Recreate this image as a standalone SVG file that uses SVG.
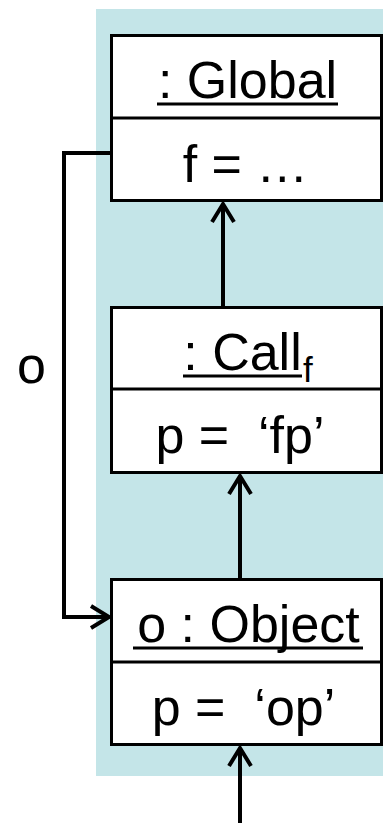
<svg xmlns="http://www.w3.org/2000/svg" width="383" height="823" viewBox="0 0 383 823">
<style>
.box{fill:#fff;stroke:#000;stroke-width:3}
.div{stroke:#000;stroke-width:3}
.t{font-family:"Liberation Sans",Arial,sans-serif;font-size:52px;fill:#000;text-anchor:middle}
.sub{font-family:"Liberation Sans",Arial,sans-serif;font-size:35px;fill:#000;text-anchor:start}
.ul{stroke:#000;stroke-width:3}
.c{fill:none;stroke:#000;stroke-width:4}
</style>
<defs>
<marker id="arr" markerUnits="userSpaceOnUse" markerWidth="40" markerHeight="40" refX="0" refY="0" orient="auto" overflow="visible">
<path d="M -18,-11 L 0,0 L -18,11" fill="none" stroke="#000" stroke-width="4"/>
</marker>
</defs>
<rect x="96" y="9" width="287" height="767" fill="#c4e5e8"/>
<g id="connectors">
<path class="c" d="M 111,153 L 64,153 L 64,617 L 109,617" marker-end="url(#arr)"/>
<line class="c" x1="223" y1="307" x2="223" y2="204" marker-end="url(#arr)"/>
<line class="c" x1="240" y1="579" x2="240" y2="476" marker-end="url(#arr)"/>
<line class="c" x1="240" y1="823" x2="240" y2="748" marker-end="url(#arr)"/>
<text class="t" x="31.5" y="383">o</text>
</g>
<g id="global">
<rect class="box" x="111.5" y="35.5" width="270" height="165"/>
<line class="div" x1="111.5" y1="118" x2="381.5" y2="118"/>
<text class="t" x="247.5" y="98">: Global</text>
<line class="ul" x1="157" y1="104" x2="338" y2="104"/>
<text class="t" x="245.5" y="182">f = …</text>
</g>
<g id="call">
<rect class="box" x="111.5" y="307.5" width="270" height="165"/>
<line class="div" x1="111.5" y1="389" x2="381.5" y2="389"/>
<text class="t" x="242.5" y="370">: Call</text>
<text class="sub" x="303" y="382">f</text>
<line class="ul" x1="183" y1="376" x2="302" y2="376"/>
<text class="t" x="240" y="453" xml:space="preserve">p =  ‘fp’</text>
</g>
<g id="object">
<rect class="box" x="111.5" y="579.5" width="270" height="165"/>
<line class="div" x1="111.5" y1="662" x2="381.5" y2="662"/>
<text class="t" x="248.5" y="642">o : Object</text>
<line class="ul" x1="133" y1="648" x2="363" y2="648"/>
<text class="t" x="243.5" y="725" xml:space="preserve">p =  ‘op’</text>
</g>
</svg>
